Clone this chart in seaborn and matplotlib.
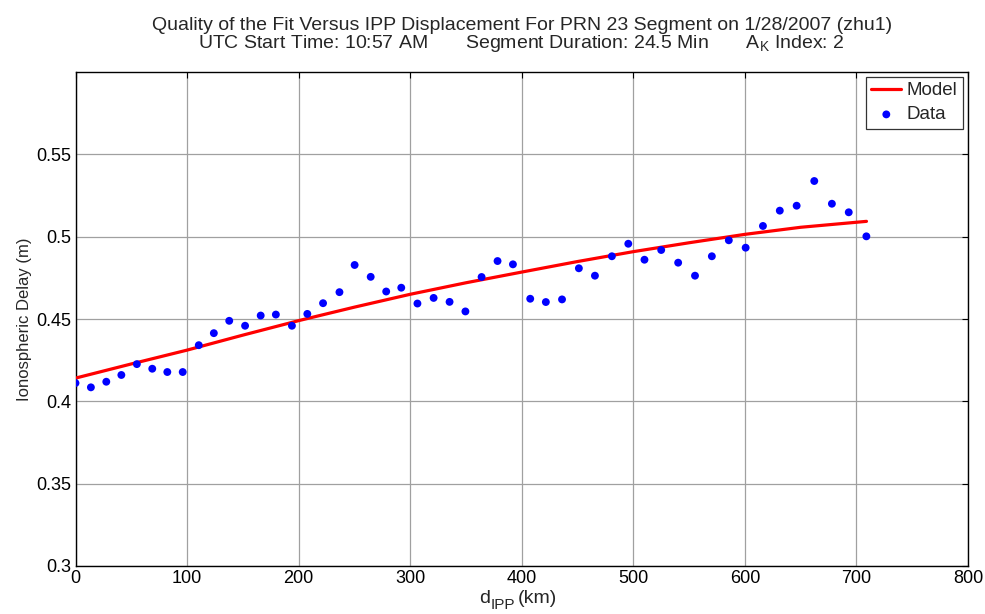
import matplotlib
matplotlib.use("Agg")
import matplotlib.pyplot as plt
import seaborn as sns
import pandas as pd

# Data
data_x = [0, 13.8, 27.6, 41.1, 55, 68.8, 82.3, 96.1, 110.5, 124, 137.8, 152, 166,
          179.6, 194, 207.8, 221.9, 236.6, 250.2, 264.6, 278.5, 292, 306.5, 321,
          335.3, 349.5, 364, 378.3, 392.1, 407.6, 421.6, 436.1, 451.2, 465.6,
          480.8, 495.5, 510, 525, 540.2, 555.3, 570.4, 585.6, 600.7, 616.2, 631.3,
          646.4, 662.2, 678, 693.1, 708.9]
data_y = [0.4111, 0.4085, 0.4119, 0.4160, 0.4226, 0.4198, 0.4178, 0.4178, 0.4341,
          0.4414, 0.4489, 0.4459, 0.4521, 0.4527, 0.4459, 0.4531, 0.4596, 0.4663,
          0.4828, 0.4756, 0.4667, 0.4690, 0.4594, 0.4628, 0.4604, 0.4546, 0.4755,
          0.4852, 0.4832, 0.4623, 0.4603, 0.4619, 0.4808, 0.4763, 0.4881, 0.4957,
          0.4860, 0.4919, 0.4842, 0.4763, 0.4881, 0.4978, 0.4933, 0.5065, 0.5158,
          0.5188, 0.5338, 0.5200, 0.5148, 0.5002]

model_x = [0, 50, 100, 150, 200, 250, 300, 350, 400, 450, 500, 550, 600, 650, 709]
model_y = [0.4141, 0.4227, 0.4311, 0.4402, 0.4490, 0.4572, 0.4650, 0.4720, 0.4785,
           0.4849, 0.4909, 0.4963, 0.5014, 0.5057, 0.5093]

x_ticks = [0, 100, 200, 300, 400, 500, 600, 700, 800]
y_ticks = [0.3, 0.35, 0.4, 0.45, 0.5, 0.55]
y_tick_labels = ["0.3", "0.35", "0.4", "0.45", "0.5", "0.55"]

sns.set_theme(style="white")
plt.rcParams["font.family"] = ["Liberation Sans", "DejaVu Sans"]
plt.rcParams["mathtext.fontset"] = "custom"
plt.rcParams["mathtext.rm"] = "Liberation Sans"
plt.rcParams["mathtext.it"] = "Liberation Sans"

df_data = pd.DataFrame({"x": data_x, "y": data_y})
df_model = pd.DataFrame({"x": model_x, "y": model_y})

W, H = 985, 614
fig = plt.figure(figsize=(W / 100, H / 100), dpi=100)
ax = fig.add_axes([75.5 / W, (H - 566) / H, (968 - 75.5) / W, (566 - 72) / H])

sns.lineplot(data=df_model, x="x", y="y", ax=ax, color="#ff0000", linewidth=2.3,
             label="Model", zorder=3)
sns.scatterplot(data=df_data, x="x", y="y", ax=ax, color="#0000ff", s=32,
                edgecolor="none", label="Data", zorder=4)

ax.set_xlim(0, 800)
ax.set_ylim(0.3, 0.6)
ax.set_xticks(x_ticks)
ax.set_yticks(y_ticks)
ax.set_yticklabels(y_tick_labels)
ax.grid(True, color="#a0a0a0", linewidth=0.9, linestyle="-")
ax.set_axisbelow(True)
ax.tick_params(direction="in", length=4, width=0.8, top=True, right=True,
               labelsize=13, colors="black")
ax.tick_params(axis="x", pad=3)
ax.tick_params(axis="y", pad=3)
for s in ax.spines.values():
    s.set_color("black")
    s.set_linewidth(1.0)

ax.set_xlabel("")
ax.set_ylabel("Ionospheric Delay (m)", fontsize=12, labelpad=3)
ax.set_title("Quality of the Fit Versus IPP Displacement For PRN 23 Segment on 1/28/2007 (zhu1)\n"
             "UTC Start Time: 10:57 AM       Segment Duration: 24.5 Min       "
             r"A$_{\mathrm{K}}$ Index: 2",
             fontsize=14, pad=17, linespacing=0.98)

leg = ax.legend(loc="upper right", fontsize=13.5, frameon=True, fancybox=False,
                borderpad=0.3, handlelength=1.6, handletextpad=0.3,
                labelspacing=0.36, borderaxespad=0.25)
leg.get_frame().set_edgecolor("black")
leg.get_frame().set_linewidth(0.9)

# x label "d_IPP (km)" composed of pieces so the subscript stays large
fig.canvas.draw()
renderer = fig.canvas.get_renderer()
pieces = [("d", 14, 0, 1), ("IPP", 11, 6, 2), ("(km)", 14, 0, 0)]
texts = []
for s, size, dy, gap in pieces:
    t = fig.text(0, 0, s, fontsize=size, va="baseline", ha="left")
    texts.append((t, dy, gap))
widths = [t.get_window_extent(renderer).width + gap for t, _, gap in texts]
total = sum(widths)
x0 = 518 - total / 2
base_y = 603
for (t, dy, gap), w in zip(texts, widths):
    t.set_position((x0 / W, (H - base_y - dy) / H))
    x0 += w

fig.savefig("out.png", dpi=100, facecolor="white")
